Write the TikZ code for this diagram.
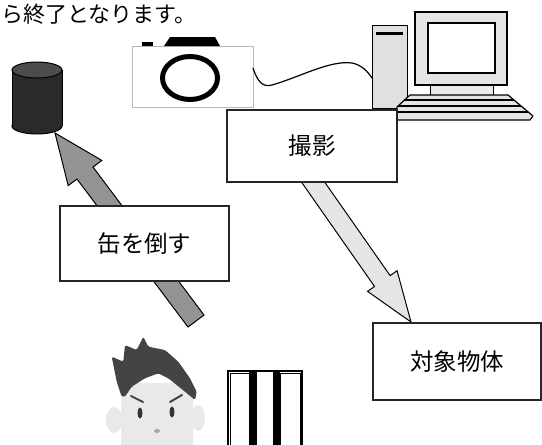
\documentclass[tikz,border=0pt]{standalone}
\usepackage{fontspec}
\newfontfamily\jp{Noto Sans CJK JP}
\usetikzlibrary{calc}

% block arrow: #1 style, #2 tail, #3 tip, #4 shaft half width, #5 head half width, #6 head length
\newcommand\blockarrow[6]{%
  \draw[#1] ($(#2)!#4!90:(#3)$)
    -- ($(#3)!#6!(#2)!#4!90:(#3)$)
    -- ($(#3)!#6!(#2)!#5!90:(#3)$)
    -- (#3)
    -- ($(#3)!#6!(#2)!#5!270:(#3)$)
    -- ($(#3)!#6!(#2)!#4!270:(#3)$)
    -- ($(#2)!#4!270:(#3)$) -- cycle;}

\definecolor{hair}{HTML}{444444}
\definecolor{skin}{HTML}{E9E9E9}
\definecolor{canbody}{HTML}{2A2A2A}
\definecolor{cantop}{HTML}{4C4C4C}

\tikzset{
  labelbox/.style={draw=black!85, line width=1.2pt, fill=white, inner sep=0pt,
    font=\jp\fontsize{23.5pt}{27pt}\selectfont},
  outline/.style={draw=black, line width=1pt},
  darkarrow/.style={draw=black, line width=1pt, fill=black!42, line join=miter},
  lightarrow/.style={draw=black, line width=1pt, fill=black!10, line join=miter},
}

\begin{document}
\begin{tikzpicture}[x=1pt,y=-1pt]
\useasboundingbox (0,0) rectangle (542,445);

% trailing sentence at the top
\node[anchor=west, inner sep=0pt, font=\jp\fontsize{22pt}{26pt}\selectfont] (lead) at (1,14) {ら終了となります。};

% camera
\draw[draw=black!28, line width=1pt, fill=white] (132,46) rectangle (253,107);
\fill[black] (142,42) rectangle (153,46);
\fill[black] (164,46) -- (170,37) -- (215,37) -- (220,46) -- cycle;
\draw[line width=5pt] (190,78) ellipse [x radius=27.5, y radius=21.5];
\coordinate (camport) at (253,68);

% computer tower
\draw[outline, fill=black!12] (372,25) rectangle (407,108);
\fill[black] (376,32) rectangle (403,35);
\coordinate (pcport) at (372,78);

% cable between camera and computer
\draw[line width=1.2pt] (camport) .. controls (257,80) and (262,88) .. (272,85)
  .. controls (300,77) and (330,60) .. (352,63)
  .. controls (362,65) and (368,72) .. (pcport);

% monitor
\draw[outline, fill=black!8] (430,85) rectangle (493,95);
\draw[outline, line width=1.2pt, fill=black!10] (415,12) rectangle (507,85);
\draw[outline, line width=1.2pt, fill=white] (428,23) rectangle (495,73);

% keyboard
\draw[outline, line width=1.2pt, fill=black!10, line join=round]
  (410,95) -- (508,95) -- (533,116) -- (530,120) -- (397,120) -- (397,107) -- cycle;
\draw[line width=1.2pt] (404,100) -- (514,100);
\draw[line width=1.2pt] (398,106) -- (521,106);
\draw[line width=1.2pt] (397,112) -- (528,112);

% arrows
\coordinate (throwtail) at (196,321);
\coordinate (cantip) at (55,133);
\blockarrow{darkarrow}{throwtail}{cantip}{10pt}{21pt}{50pt}

\coordinate (shottail) at (306,172);
\coordinate (targettip) at (411,322);
\blockarrow{lightarrow}{shottail}{targettip}{9.5pt}{18pt}{50pt}

% labelled boxes
\node[labelbox, minimum width=170pt, minimum height=72pt] (shoot) at (312,146) {撮影};
\node[labelbox, minimum width=169pt, minimum height=75pt] (knock) at (144.5,243.5) {缶を倒す};
\node[labelbox, minimum width=168pt, minimum height=77pt] (target) at (457,361.5) {対象物体};

% can
\draw[outline, fill=canbody] (37,126) ellipse [x radius=25, y radius=8];
\fill[canbody] (12,70) rectangle (62,126);
\draw[line width=1pt] (12,70) -- (12,126) (62,70) -- (62,126);
\draw[outline, fill=cantop] (37,70) ellipse [x radius=25, y radius=8];

% person
\fill[skin] (114,420) ellipse [x radius=8, y radius=13];
\fill[skin] (198,418) ellipse [x radius=7, y radius=13];
\fill[skin, rounded corners=18pt] (121,383) rectangle (193,475);
\fill[hair, rounded corners=1.5pt]
  (121.7,396.7) -- (116.7,381.7) -- (111.7,356.7) -- (123.3,361.7) -- (125,345)
  -- (136.7,350) -- (143.3,336.7) -- (148.3,346.7) -- (165,350) -- (178.3,361.7)
  -- (190,378.3) -- (196.7,391.7) -- (195,400) -- (185,391.7) -- (168.3,378.3)
  -- (158.3,373.3) -- (145,378.3) -- (131.7,386.7) -- (125,396.7) -- cycle;
\draw[hair, line width=2pt, line cap=round] (131,396) -- (143,402);
\draw[hair, line width=2pt, line cap=round] (170,402) -- (182,395);
\fill[black!80] (140,413) ellipse [x radius=2.5, y radius=5.5];
\fill[black!80] (172,412) ellipse [x radius=2.5, y radius=5.5];
\fill[black!35] (157,431) ellipse [x radius=3, y radius=2];

% striped panel
\draw[line width=1.2pt, fill=white] (228,371) rectangle (302,450);
\draw[line width=0.6pt] (230,373) rectangle (249,450);
\fill[black] (249,371) rectangle (257,450);
\fill[black] (273,371) rectangle (280,450);
\draw[line width=0.6pt] (280,373) rectangle (300,450);
\end{tikzpicture}
\end{document}
